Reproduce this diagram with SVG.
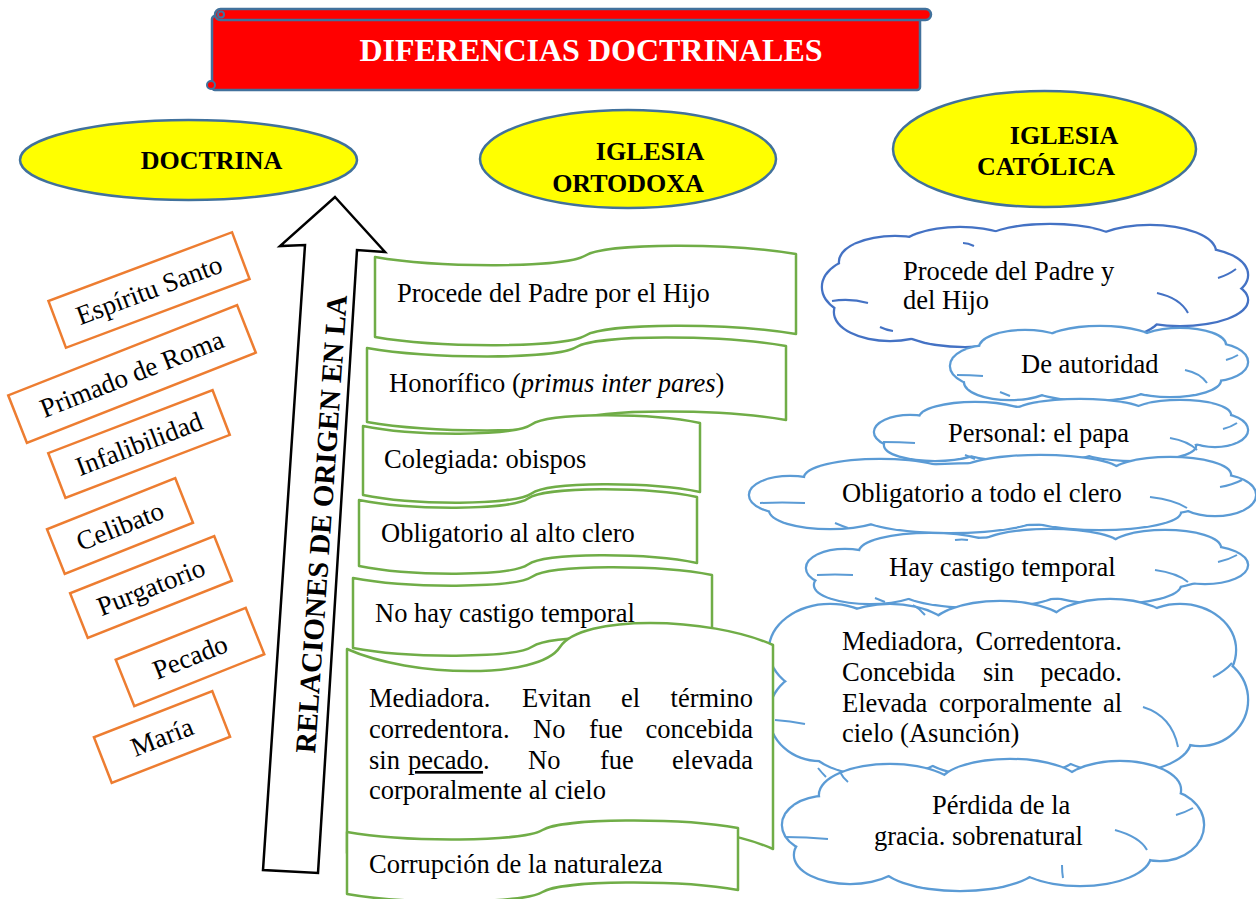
<svg xmlns="http://www.w3.org/2000/svg" xmlns:xlink="http://www.w3.org/1999/xlink" width="1256" height="899" viewBox="0 0 1256 899">
<style>
text{font-family:"Liberation Serif","Times New Roman",serif;fill:#000;font-size:26.5px}
.b{font-weight:bold}
.hd{font-size:26px;font-weight:bold}
.ell{fill:#FFFF00;stroke:#41719C;stroke-width:2.5}
.ob{fill:#fff;stroke:#ED7D31;stroke-width:2.5}
.gw{fill:#fff;stroke:#70AD47;stroke-width:2.5;stroke-linejoin:round}
.cs{fill:#fff;stroke:#5B9BD5;stroke-width:4.5}
.cs1{fill:#fff;stroke:#4472C4;stroke-width:4.5}
.cf{fill:#fff;stroke:none}
.cr{fill:none;stroke:#5B9BD5;stroke-width:2}
.cr1{fill:none;stroke:#4472C4;stroke-width:2}
.lb{font-size:27px}
</style>
<defs>
<g id="c1">
<ellipse cx="870" cy="287" rx="47" ry="30"/><ellipse cx="890" cy="312" rx="55" ry="28"/><ellipse cx="965" cy="318" rx="75" ry="28"/><ellipse cx="1080" cy="315" rx="80" ry="27"/><ellipse cx="1180" cy="300" rx="67" ry="25"/><ellipse cx="1197" cy="275" rx="50" ry="26"/><ellipse cx="1150" cy="252" rx="65" ry="26"/><ellipse cx="1050" cy="245" rx="70" ry="20"/><ellipse cx="960" cy="250" rx="60" ry="22"/><ellipse cx="895" cy="262" rx="55" ry="25"/><ellipse cx="1035" cy="286" rx="180" ry="45"/>
</g>
<g id="c2">
<ellipse cx="990" cy="366" rx="39" ry="20"/><ellipse cx="1010" cy="382" rx="45" ry="17"/><ellipse cx="1090" cy="385" rx="60" ry="15"/><ellipse cx="1170" cy="380" rx="50" ry="16"/><ellipse cx="1212" cy="362" rx="35" ry="18"/><ellipse cx="1180" cy="345" rx="45" ry="16"/><ellipse cx="1100" cy="342" rx="55" ry="15"/><ellipse cx="1025" cy="348" rx="45" ry="17"/><ellipse cx="1099" cy="363" rx="120" ry="28"/>
</g>
<g id="c3">
<ellipse cx="910" cy="432" rx="35" ry="16"/><ellipse cx="935" cy="445" rx="50" ry="15"/><ellipse cx="1030" cy="448" rx="70" ry="13"/><ellipse cx="1135" cy="446" rx="60" ry="14"/><ellipse cx="1215" cy="430" rx="32" ry="16"/><ellipse cx="1180" cy="415" rx="50" ry="14"/><ellipse cx="1080" cy="413" rx="65" ry="13"/><ellipse cx="975" cy="418" rx="55" ry="15"/><ellipse cx="1061" cy="431" rx="160" ry="24"/>
</g>
<g id="c4">
<ellipse cx="790" cy="495" rx="40" ry="18"/><ellipse cx="830" cy="510" rx="60" ry="18"/><ellipse cx="950" cy="515" rx="90" ry="17"/><ellipse cx="1100" cy="512" rx="80" ry="17"/><ellipse cx="1215" cy="495" rx="40" ry="20"/><ellipse cx="1170" cy="475" rx="60" ry="17"/><ellipse cx="1040" cy="472" rx="80" ry="16"/><ellipse cx="880" cy="478" rx="75" ry="18"/><ellipse cx="1002" cy="494" rx="220" ry="30"/>
</g>
<g id="c5">
<ellipse cx="845" cy="568" rx="38" ry="18"/><ellipse cx="870" cy="585" rx="55" ry="18"/><ellipse cx="980" cy="590" rx="80" ry="17"/><ellipse cx="1110" cy="585" rx="70" ry="18"/><ellipse cx="1205" cy="565" rx="42" ry="18"/><ellipse cx="1165" cy="548" rx="55" ry="17"/><ellipse cx="1050" cy="546" rx="70" ry="16"/><ellipse cx="930" cy="552" rx="70" ry="18"/><ellipse cx="1027" cy="568" rx="190" ry="30"/>
</g>
<g id="c6">
<ellipse cx="830" cy="650" rx="60" ry="45"/><ellipse cx="820" cy="715" rx="50" ry="45"/><ellipse cx="880" cy="745" rx="70" ry="30"/><ellipse cx="1000" cy="750" rx="80" ry="27"/><ellipse cx="1120" cy="740" rx="70" ry="32"/><ellipse cx="1200" cy="700" rx="47" ry="45"/><ellipse cx="1180" cy="650" rx="55" ry="45"/><ellipse cx="1110" cy="625" rx="60" ry="25"/><ellipse cx="1000" cy="630" rx="70" ry="28"/><ellipse cx="890" cy="640" rx="65" ry="35"/><ellipse cx="1008" cy="690" rx="200" ry="65"/>
</g>
<g id="c7">
<ellipse cx="825" cy="825" rx="42" ry="28"/><ellipse cx="850" cy="855" rx="55" ry="28"/><ellipse cx="960" cy="862" rx="80" ry="28"/><ellipse cx="1080" cy="855" rx="70" ry="30"/><ellipse cx="1160" cy="825" rx="43" ry="35"/><ellipse cx="1120" cy="790" rx="60" ry="28"/><ellipse cx="1010" cy="785" rx="70" ry="25"/><ellipse cx="890" cy="795" rx="70" ry="30"/><ellipse cx="993" cy="826" rx="160" ry="50"/>
</g>
</defs>

<rect width="1256" height="899" fill="#fff"/>

<g id="title">
<rect x="212" y="16" width="708" height="74" rx="3" fill="#FF0000" stroke="#41719C" stroke-width="2.5"/>
<rect x="215" y="9" width="716" height="11" rx="5.5" fill="#FF0000" stroke="#41719C" stroke-width="2.5"/>
<circle cx="221" cy="14.5" r="3" fill="#FF0000" stroke="#41719C" stroke-width="2"/>
<circle cx="211" cy="85" r="4" fill="#FF0000" stroke="#41719C" stroke-width="2"/>
<text x="591" y="61" text-anchor="middle" class="b" style="font-size:32px;fill:#fff">DIFERENCIAS DOCTRINALES</text>
</g>

<g id="doctrina">
<ellipse class="ell" cx="188.5" cy="160" rx="168.5" ry="40"/>
<text x="211.5" y="169" text-anchor="middle" class="hd">DOCTRINA</text>
</g>
<g id="ortodoxa">
<ellipse class="ell" cx="628" cy="159" rx="148" ry="49"/>
<text x="650" y="160" text-anchor="middle" class="hd">IGLESIA</text>
<text x="628" y="192" text-anchor="middle" class="hd">ORTODOXA</text>
</g>
<g id="catolica">
<ellipse class="ell" cx="1044.5" cy="149" rx="151.5" ry="58"/>
<text x="1064" y="144" text-anchor="middle" class="hd">IGLESIA</text>
<text x="1046" y="175" text-anchor="middle" class="hd">CATÓLICA</text>
</g>

<g id="d-espiritu" transform="translate(149,290) rotate(-20.5)">
<rect class="ob" x="-98" y="-25" width="196" height="50"/>
<text class="lb" x="0" y="9" text-anchor="middle">Espíritu Santo</text>
</g>
<g id="d-primado" transform="translate(132,374) rotate(-21.5)">
<rect class="ob" x="-123" y="-25.5" width="246" height="51"/>
<text class="lb" x="0" y="9" text-anchor="middle">Primado de Roma</text>
</g>
<g id="d-infalibilidad" transform="translate(139,444) rotate(-21)">
<rect class="ob" x="-88" y="-24" width="176" height="48"/>
<text class="lb" x="0" y="9" text-anchor="middle">Infalibilidad</text>
</g>
<g id="d-celibato" transform="translate(120,526) rotate(-21.7)">
<rect class="ob" x="-69" y="-24" width="138" height="48"/>
<text class="lb" x="0" y="9" text-anchor="middle">Celibato</text>
</g>
<g id="d-purgatorio" transform="translate(151,587) rotate(-21.6)">
<rect class="ob" x="-77.5" y="-24" width="155" height="48"/>
<text class="lb" x="0" y="9" text-anchor="middle">Purgatorio</text>
</g>
<g id="d-pecado" transform="translate(190,657) rotate(-21.8)">
<rect class="ob" x="-70" y="-25" width="140" height="50"/>
<text class="lb" x="0" y="9" text-anchor="middle">Pecado</text>
</g>
<g id="d-maria" transform="translate(162,737) rotate(-21.3)">
<rect class="ob" x="-63.5" y="-24.5" width="127" height="49"/>
<text class="lb" x="0" y="9" text-anchor="middle">María</text>
</g>

<g id="arrow">
<polygon points="335,197 385,252 357,250 318,873 263,870 305,245 280,246" fill="#fff" stroke="#000" stroke-width="2.5" stroke-linejoin="miter"/>
<text transform="translate(321,524) rotate(-86)" x="0" y="10" text-anchor="middle" class="b" style="font-size:29px">RELACIONES DE ORIGEN EN LA</text>
</g>

<g id="connectors"></g>

<g id="cat-1"><use href="#c1" class="cs1"/><use href="#c1" class="cf"/>
<path class="cr1" d="M832,301 Q850,298 868,303 M1157,293 Q1180,298 1188,313 M1218,278 Q1228,275 1236,269 M963,243 Q968,243 974,246 M880,327 Q886,330 893,331"/>
<text x="903" y="280">Procede del Padre y</text><text x="903" y="309">del Hijo</text></g>
<g id="cat-2"><use href="#c2" class="cs"/><use href="#c2" class="cf"/>
<path class="cr" d="M957,375 Q970,375 983,376 M1185,370 Q1200,373 1207,383 M1226,360 Q1233,358 1238,355 M1000,392 Q1005,394 1010,396"/>
<text x="1021" y="373">De autoridad</text></g>
<g id="cat-3"><use href="#c3" class="cs"/><use href="#c3" class="cf"/>
<path class="cr" d="M883,442 Q900,442 915,443 M1170,438 Q1188,441 1197,450 M1223,429 Q1231,427 1237,423 M965,455 Q970,457 975,459"/>
<text x="948" y="442">Personal: el papa</text></g>
<g id="cat-4"><use href="#c4" class="cs"/><use href="#c4" class="cf"/>
<path class="cr" d="M760,503 Q782,502 805,503 M1150,497 Q1175,500 1187,508 M1220,487 Q1232,485 1242,480 M835,523 Q842,526 848,528"/>
<text x="842" y="502">Obligatorio a todo el clero</text></g>
<g id="cat-5"><use href="#c5" class="cs"/><use href="#c5" class="cf"/>
<path class="cr" d="M817,575 Q835,574 853,575 M1155,570 Q1177,573 1188,582 M1218,562 Q1228,560 1237,555 M955,540 Q962,539 968,540 M875,598 Q880,600 885,602"/>
<text x="889" y="576">Hay castigo temporal</text></g>
<g id="cat-6"><use href="#c6" class="cs"/><use href="#c6" class="cf"/>
<path class="cr" d="M775,720 Q790,721 805,724 M1143,707 Q1172,716 1178,747 M1213,677 Q1225,671 1232,663 M913,605 Q920,609 925,615 M818,768 Q822,773 826,777"/>
<text y="650"><tspan x="842">Mediadora,</tspan><tspan x="1122" text-anchor="end">Corredentora.</tspan></text>
<text y="681"><tspan x="842">Concebida</tspan><tspan x="983">sin</tspan><tspan x="1122" text-anchor="end">pecado.</tspan></text>
<text y="712"><tspan x="842">Elevada</tspan><tspan x="939">corporalmente</tspan><tspan x="1122" text-anchor="end">al</tspan></text>
<text x="842" y="742">cielo (Asunción)</text></g>
<g id="cat-7"><use href="#c7" class="cs"/><use href="#c7" class="cf"/>
<path class="cr" d="M785,837 Q806,837 828,839 M1115,830 Q1140,837 1147,850 M1176,815 Q1186,812 1193,808 M840,772 Q843,778 848,782 M1062,865 Q1062,872 1063,878"/>
<text x="932" y="814">Pérdida de la</text><text x="874" y="845">gracia. sobrenatural</text></g>

<g id="ort-1">
<path class="gw" d="M375,257 C438.2,268 564.5,268.3 585.5,255.5 C606.6,242.8 732.9,243 796,254 L796,334 C732.9,323 606.6,322.8 585.5,335.5 C564.5,348.3 438.2,348 375,337 Z"/>
<text x="397" y="302">Procede del Padre por el Hijo</text>
</g>
<g id="ort-2">
<path class="gw" d="M367,348 C429.9,359 555.6,359.8 576.5,347 C597.5,334.3 723.2,335 786,346 L786,420 C723.2,409 597.5,408.3 576.5,421 C555.6,433.8 429.9,433 367,422 Z"/>
<text x="389" y="392">Honorífico (<tspan font-style="italic">primus inter pares</tspan>)</text>
</g>
<g id="ort-3">
<path class="gw" d="M363,426 C413.6,436.4 514.7,436.5 531.5,424.5 C548.4,412.5 649.5,412.6 700,423 L700,492 C649.5,481.6 548.4,481.5 531.5,493.5 C514.7,505.5 413.6,505.4 363,495 Z"/>
<text x="384" y="468">Colegiada: obispos</text>
</g>
<g id="ort-4">
<path class="gw" d="M359,500 C409.7,510.4 511.1,510.5 528,498.5 C544.9,486.5 646.3,486.6 697,497 L697,563 C646.3,552.6 544.9,552.5 528,564.5 C511.1,576.5 409.7,576.4 359,566 Z"/>
<text x="381" y="542">Obligatorio al alto clero</text>
</g>
<g id="ort-5">
<path class="gw" d="M353,578 C406.9,588.4 514.6,588.5 532.5,576.5 C550.5,564.5 658.2,564.6 712,575 L712,645 C658.2,634.6 550.5,634.5 532.5,646.5 C514.6,658.5 406.9,658.4 353,648 Z"/>
<text x="375" y="622">No hay castigo temporal</text>
</g>
<g id="ort-6">
<path class="gw" d="M347,649 C410.9,677.6 538.7,680 560,647 C581.3,614 709.1,616.4 773,645 L773,849 C709.1,820.4 581.3,818 560,851 C538.7,884 410.9,881.6 347,853 Z"/>
<text y="707"><tspan x="369">Mediadora.</tspan><tspan x="522">Evitan</tspan><tspan x="621">el</tspan><tspan x="753" text-anchor="end">término</tspan></text>
<text y="738"><tspan x="369">corredentora.</tspan><tspan x="533">No</tspan><tspan x="589">fue</tspan><tspan x="753" text-anchor="end">concebida</tspan></text>
<text y="769"><tspan x="369">sin</tspan><tspan x="408" text-decoration="underline">pecado</tspan><tspan>.</tspan><tspan x="528">No</tspan><tspan x="600">fue</tspan><tspan x="753" text-anchor="end">elevada</tspan></text>
<text x="369" y="799">corporalmente al cielo</text>
</g>
<g id="ort-7">
<path class="gw" d="M347,832 C405.7,842.4 523,842 542.5,830 C562.1,818 679.4,817.6 738,828 L738,890 C679.4,879.6 562.1,880 542.5,892 C523,904 405.7,904.4 347,894 Z"/>
<text x="369" y="873">Corrupción de la naturaleza</text>
</g>
</svg>
